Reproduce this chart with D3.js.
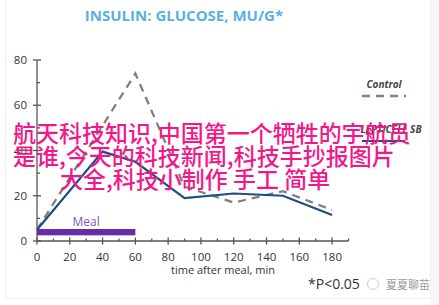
<!DOCTYPE html>
<html>
<head>
<meta charset="utf-8">
<script src="https://cdn.jsdelivr.net/npm/d3@7"></script>
<style>
  body { margin: 0; background: #fff; }
  svg { display: block; }
</style>
</head>
<body>
<div id="chart"></div>
<script>
// data
const controlTimes = [0, 60, 90, 120, 150, 180];
const controlValues = [5, 74, 24, 17, 22, 13.7];
const lepticellTimes = [0, 40, 60, 90, 120, 150, 180];
const lepticellValues = [5, 39.5, 35, 19, 21, 20, 11.5];
const mealSpan = [0, 60];
const mealLevel = [2.5, 5.3];
const xTicks = [0, 20, 40, 60, 80, 100, 120, 140, 160, 180];
const xMinor = [10, 30, 50, 70, 90, 110, 130, 150, 170, 190];
const yTicks = [0, 20, 40, 60, 80];
const yMinor = [10, 30, 50, 70];
const overlayLines = [
    "航天科技知识,中国第一个牺牲的宇航员",
    "是谁,今天的科技新闻,科技手抄报图片",
    "大全,科技小制作 手工 简单"
];

const W = 439, H = 305;
const svg = d3.select("#chart").append("svg")
    .attr("width", W)
    .attr("height", H);

// faint frame of the screenshot
svg.append("path")
    .attr("d", "M5.5 0 L5.5 298.5 L430.5 298.5 L430.5 0")
    .attr("fill", "none")
    .attr("stroke", "#f0f0f0");
svg.append("rect")
    .attr("x", 431).attr("y", 0).attr("width", 8).attr("height", H)
    .attr("fill", "#f7f7f7");

const x = d3.scaleLinear().domain([0, 190]).range([37, 348.5]);
const y = d3.scaleLinear().domain([0, 80]).range([241, 60]);

const axisColor = "#555";
const tickFont = "'Open Sans', 'Liberation Sans', sans-serif";

// title
svg.append("text")
    .attr("x", 184)
    .attr("y", 21)
    .attr("text-anchor", "middle")
    .style("font-family", tickFont)
    .style("font-weight", "bold")
    .style("font-size", "15px")
    .attr("fill", "#5ab0e0")
    .text("INSULIN: GLUCOSE, MU/G*");

// y axis
const yAxisG = svg.append("g");
yAxisG.append("line")
    .attr("x1", x(0)).attr("x2", x(0))
    .attr("y1", y(0)).attr("y2", y(80))
    .attr("stroke", axisColor).attr("stroke-width", 1.3);
yAxisG.selectAll("line.major").data(yTicks).join("line")
    .attr("class", "major")
    .attr("x1", x(0) - 4).attr("x2", x(0) + 4)
    .attr("y1", d => y(d)).attr("y2", d => y(d))
    .attr("stroke", axisColor).attr("stroke-width", 1.3);
yAxisG.selectAll("line.minor").data(yMinor).join("line")
    .attr("class", "minor")
    .attr("x1", x(0)).attr("x2", x(0) + 3)
    .attr("y1", d => y(d)).attr("y2", d => y(d))
    .attr("stroke", axisColor).attr("stroke-width", 1.3);
yAxisG.selectAll("text").data(yTicks).join("text")
    .attr("x", 27)
    .attr("y", d => y(d) + 4)
    .attr("text-anchor", "end")
    .style("font-family", tickFont)
    .style("font-size", "11.5px")
    .attr("fill", "#333")
    .text(d => d);

// x axis
const xAxisG = svg.append("g");
xAxisG.append("line")
    .attr("x1", x(0)).attr("x2", x(190))
    .attr("y1", y(0)).attr("y2", y(0))
    .attr("stroke", axisColor).attr("stroke-width", 1.3);
xAxisG.selectAll("line.major").data(xTicks).join("line")
    .attr("class", "major")
    .attr("x1", d => x(d)).attr("x2", d => x(d))
    .attr("y1", y(0) - 3.5).attr("y2", y(0) + 3.5)
    .attr("stroke", axisColor).attr("stroke-width", 1.3);
xAxisG.selectAll("line.minor").data(xMinor).join("line")
    .attr("class", "minor")
    .attr("x1", d => x(d)).attr("x2", d => x(d))
    .attr("y1", y(0) - 2.5).attr("y2", y(0))
    .attr("stroke", axisColor).attr("stroke-width", 1.3);
xAxisG.selectAll("text").data(xTicks).join("text")
    .attr("x", d => x(d))
    .attr("y", 261)
    .attr("text-anchor", "middle")
    .style("font-family", tickFont)
    .style("font-size", "11.5px")
    .attr("fill", "#333")
    .text(d => d);

svg.append("text")
    .attr("x", 223)
    .attr("y", 274)
    .attr("text-anchor", "middle")
    .style("font-family", tickFont)
    .style("font-size", "11px")
    .attr("fill", "#333")
    .text("time after meal, min");

// meal bar
svg.append("rect")
    .attr("x", x(mealSpan[0]))
    .attr("y", y(mealLevel[1]))
    .attr("width", x(mealSpan[1]) - x(mealSpan[0]))
    .attr("height", y(mealLevel[0]) - y(mealLevel[1]))
    .attr("fill", "#6a2ca6");
svg.append("text")
    .attr("x", x(30))
    .attr("y", 226)
    .attr("text-anchor", "middle")
    .style("font-family", tickFont)
    .style("font-size", "12px")
    .attr("fill", "#7c58b0")
    .text("Meal");

// lines
const line = d3.line()
    .x(d => x(d[0]))
    .y(d => y(d[1]));

svg.append("path")
    .datum(d3.zip(controlTimes, controlValues))
    .attr("d", line)
    .attr("fill", "none")
    .attr("stroke", "#808080")
    .attr("stroke-width", 2.3)
    .attr("stroke-dasharray", "8,6");

svg.append("path")
    .datum(d3.zip(lepticellTimes, lepticellValues))
    .attr("d", line)
    .attr("fill", "none")
    .attr("stroke", "#1f4e80")
    .attr("stroke-width", 2.2);

// legend
const legend = svg.append("g");
legend.append("text")
    .attr("x", 384).attr("y", 88)
    .attr("text-anchor", "middle")
    .style("font-family", tickFont)
    .style("font-size", "10px")
    .style("font-style", "italic")
    .style("font-weight", "bold")
    .attr("fill", "#444")
    .text("Control");
legend.append("line")
    .attr("x1", 362).attr("x2", 406)
    .attr("y1", 96).attr("y2", 96)
    .attr("stroke", "#808080").attr("stroke-width", 2.3)
    .attr("stroke-dasharray", "8,6");
legend.append("text")
    .attr("x", 391).attr("y", 133)
    .attr("text-anchor", "middle")
    .style("font-family", tickFont)
    .style("font-size", "10px")
    .style("font-style", "italic")
    .style("font-weight", "bold")
    .attr("fill", "#444")
    .text("LEPTICELL SB");
legend.append("line")
    .attr("x1", 362).attr("x2", 405)
    .attr("y1", 141).attr("y2", 141)
    .attr("stroke", "#1f4e80").attr("stroke-width", 2.2);

// footnote
svg.append("text")
    .attr("x", 308).attr("y", 289)
    .style("font-family", tickFont)
    .style("font-size", "14px")
    .attr("fill", "#333")
    .text("*P<0.05");

// watermark
svg.append("circle")
    .attr("cx", 373).attr("cy", 284).attr("r", 5.5)
    .attr("fill", "none").attr("stroke", "#ccc").attr("stroke-width", 1);
svg.append("text")
    .attr("x", 386).attr("y", 289)
    .style("font-family", "'Noto Sans CJK SC', sans-serif")
    .style("font-size", "11px")
    .attr("fill", "#999")
    .text("夏夏聊苗");

// pink overlay text
const overlayX = [13, 13, 60];
svg.append("g").selectAll("text").data(overlayLines).join("text")
    .attr("x", (d, i) => overlayX[i])
    .attr("y", (d, i) => 142 + i * 23)
    .style("font-family", "'Noto Sans CJK SC', sans-serif")
    .style("font-size", "23px")
    .style("font-weight", "500")
    .attr("fill", "#f3188a")
    .text(d => d);
</script>
</body>
</html>
